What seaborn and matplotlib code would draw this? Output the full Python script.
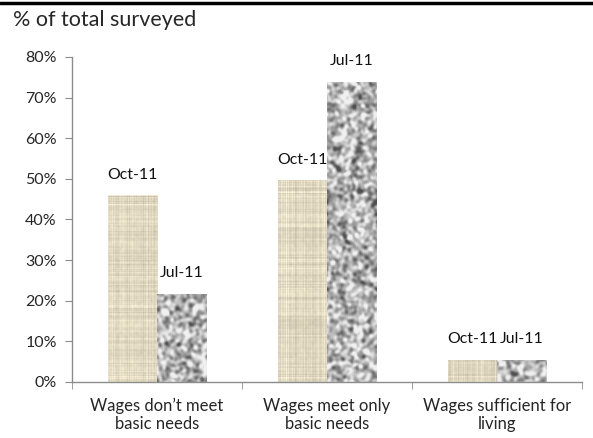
import numpy as np
import pandas as pd
import matplotlib
matplotlib.use("Agg")
import matplotlib.pyplot as plt
import seaborn as sns

# data
categories = ["Wages don\u2019t meet\nbasic needs", "Wages meet only\nbasic needs", "Wages sufficient for\nliving"]
periods = ["Oct-11", "Jul-11"]
oct_11 = [45.9, 49.6, 5.4]
jul_11 = [21.7, 73.8, 5.4]
y_ticks = [0, 10, 20, 30, 40, 50, 60, 70, 80]

df = pd.DataFrame({
    "category": categories * 2,
    "period": [periods[0]] * 3 + [periods[1]] * 3,
    "value": oct_11 + jul_11,
})

sns.set_style("white")
plt.rcParams["font.family"] = ["Lato", "DejaVu Sans"]

fig = plt.figure(figsize=(5.93, 4.38), dpi=100)
ax = fig.add_axes([0.1214, 0.128, 0.8596, 0.742])

sns.barplot(data=df, x="category", y="value", hue="period", hue_order=periods,
            palette=["#dcd2b8", "#a9a9a9"], width=0.58, ax=ax, legend=False,
            linewidth=0, saturation=1)

# --- textures (decoration only, not data) ---
rng = np.random.default_rng(3)

def blur(a, n):
    out = a.copy()
    for _ in range(n):
        out = (np.roll(out, 1, 0) + out + np.roll(out, -1, 0)) / 3
        out = (np.roll(out, 1, 1) + out + np.roll(out, -1, 1)) / 3
    return out

def burlap(h, w):
    rows = rng.normal(0, 1, (h, 1)) * 7
    cols = rng.normal(0, 1, (1, w)) * 6
    n = blur(rng.normal(0, 1, (h, w)), 1) * 8
    base = np.array([226, 217, 194], float)
    v = rows + cols + n
    img = np.clip(base[None, None, :] + v[..., None] * np.array([1.0, 1.0, 0.9]), 0, 255)
    return img / 255

def granite(h, w):
    n = blur(rng.normal(0, 1, (h, w)), 3)
    n = n / n.std()
    v = np.clip(180 + n * 38, 80, 240)
    return np.repeat(v[..., None], 3, axis=2) / 255

px_per_unit = 324 / 80
for container, make in zip(ax.containers, [burlap, granite]):
    for bar in container:
        x0, y0 = bar.get_x(), bar.get_y()
        bw, bh = bar.get_width(), bar.get_height()
        h = max(int(bh * px_per_unit), 4)
        im = ax.imshow(make(h, 50), extent=[x0, x0 + bw, y0, y0 + bh],
                       aspect="auto", interpolation="bilinear", zorder=2)
        im.set_clip_path(bar)

for container, name in zip(ax.containers, periods):
    ax.bar_label(container, labels=[name] * len(container), padding=10,
                 fontsize=11.4, color="#111111")

ax.set_xlim(-0.5, 2.5)
ax.set_ylim(0, 80)
ax.set_yticks(y_ticks)
ax.set_yticklabels([f"{t}%" for t in y_ticks], fontsize=11.5)
ax.set_xticks([0, 1, 2])
ax.set_xticklabels(categories, fontsize=12, linespacing=1.15)
ax.set_xlabel("")
ax.set_ylabel("")

for s in ["top", "right"]:
    ax.spines[s].set_visible(False)
for s in ["left", "bottom"]:
    ax.spines[s].set_color("#8c8c8c")
    ax.spines[s].set_linewidth(1.0)

ax.tick_params(axis="y", which="major", left=True, length=5, color="#8c8c8c", pad=6)
ax.tick_params(axis="x", which="major", bottom=False, pad=8)
ax.set_xticks([-0.5, 0.5, 1.5, 2.5], minor=True)
ax.tick_params(axis="x", which="minor", bottom=True, length=5, color="#8c8c8c")

fig.text(0.022, 0.954, "% of total surveyed", fontsize=15.5, va="center", ha="left")
fig.add_artist(plt.Line2D([0, 1], [0.994, 0.994], color="black", lw=2.5,
                          transform=fig.transFigure))

fig.savefig("out.png", dpi=100)
